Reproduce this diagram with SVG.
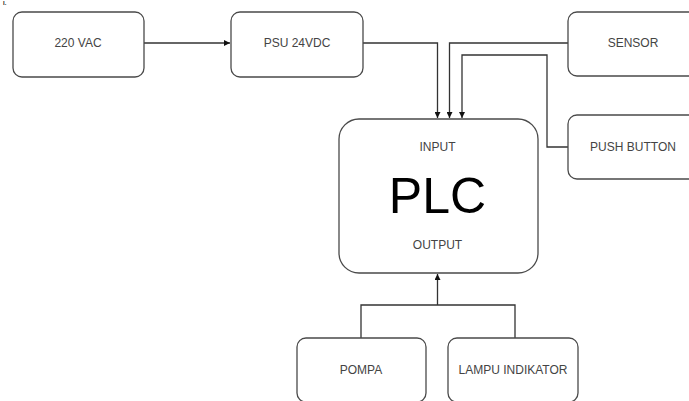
<svg xmlns="http://www.w3.org/2000/svg" width="689" height="401" viewBox="0 0 689 401">
<defs>
<style>
.box{fill:#fff;stroke:#4a4a4a;stroke-width:1.3}
.lbl{font-family:"Liberation Sans",Arial,sans-serif;font-size:12px;fill:#444;text-anchor:middle}
.big{font-family:"Liberation Sans",Arial,sans-serif;font-size:50px;fill:#000;text-anchor:middle}
.ln{fill:none;stroke:#333;stroke-width:1.3}
</style>
<marker id="ah" viewBox="0 0 10 10" refX="10" refY="5" markerWidth="6" markerHeight="6" markerUnits="userSpaceOnUse" orient="auto">
<path d="M0,0 L10,5 L0,10 Z" fill="#111"/>
</marker>
</defs>
<rect width="689" height="401" fill="#fff"/>
<text x="3" y="4.5" font-family="Liberation Sans, Arial, sans-serif" font-size="6" font-weight="bold" fill="#222">I.</text>
<g id="connectors">
<path class="ln" d="M144,43 H230" marker-end="url(#ah)"/>
<path class="ln" d="M363,43 H437.5 V118" marker-end="url(#ah)"/>
<path class="ln" d="M568,43 H449.5 V118" marker-end="url(#ah)"/>
<path class="ln" d="M568,147 H547 V55 H462 V118" marker-end="url(#ah)"/>
<path class="ln" d="M361,338 V305 H515 V338 M437.5,305 V274" marker-end="url(#ah)"/>
</g>
<g id="n220vac"><rect class="box" x="13" y="12" width="131" height="65" rx="9"/><text class="lbl" x="78" y="47">220 VAC</text></g>
<g id="psu"><rect class="box" x="231" y="12" width="132" height="65" rx="9"/><text class="lbl" x="297" y="47">PSU 24VDC</text></g>
<g id="sensor"><rect class="box" x="568" y="12" width="130" height="64" rx="9"/><text class="lbl" x="633" y="47">SENSOR</text></g>
<g id="pushbutton"><rect class="box" x="568" y="115" width="130" height="64" rx="9"/><text class="lbl" x="633" y="151">PUSH BUTTON</text></g>
<g id="plc"><rect class="box" x="339" y="119" width="199" height="154" rx="20"/>
<text class="lbl" x="437.5" y="151">INPUT</text>
<text class="big" x="437.5" y="213">PLC</text>
<text class="lbl" x="437.5" y="249">OUTPUT</text></g>
<g id="pompa"><rect class="box" x="297" y="338" width="129" height="64" rx="9"/><text class="lbl" x="361" y="374">POMPA</text></g>
<g id="lampu"><rect class="box" x="448" y="338" width="130" height="64" rx="9"/><text class="lbl" x="513" y="374">LAMPU INDIKATOR</text></g>
</svg>
